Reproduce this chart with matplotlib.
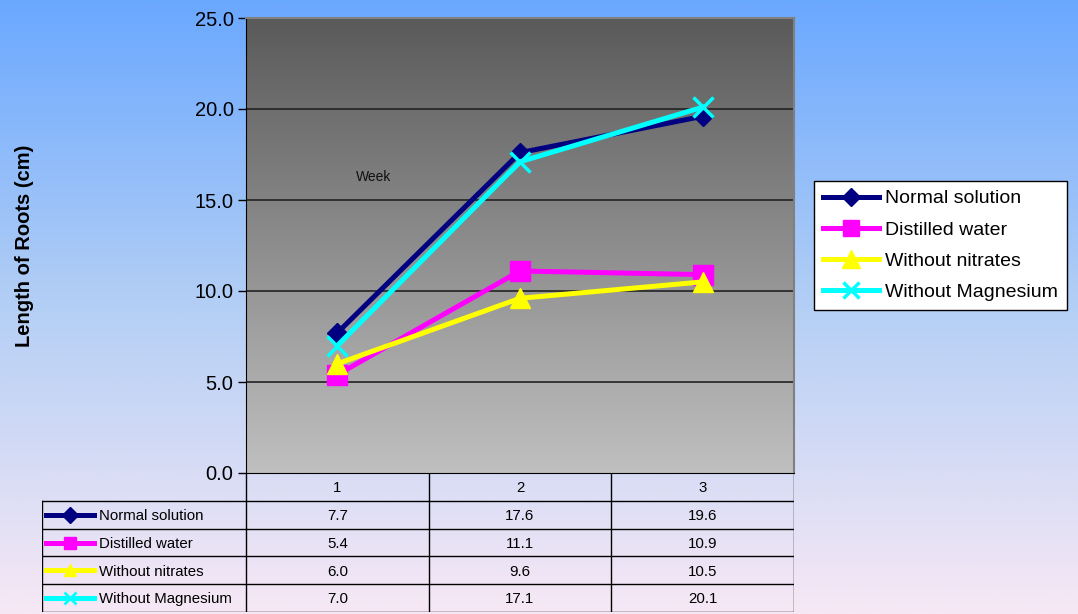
import numpy as np
from matplotlib import pyplot as plt
from matplotlib.colors import LinearSegmentedColormap
from matplotlib.lines import Line2D

weeks = ["1", "2", "3"]
series = ["Normal solution", "Distilled water", "Without nitrates", "Without Magnesium"]
normal = [7.7, 17.6, 19.6]
distilled = [5.4, 11.1, 10.9]
no_nitrates = [6.0, 9.6, 10.5]
no_magnesium = [7.0, 17.1, 20.1]
values = [normal, distilled, no_nitrates, no_magnesium]
yticks = [0, 5, 10, 15, 20, 25]

colors = ["#000080", "#ff00ff", "#ffff00", "#00ffff"]
markers = ["D", "s", "^", "x"]
msizes = [10, 14, 15, 14]

plt.rcParams['font.family'] = ['Liberation Sans', 'DejaVu Sans']

W, H = 1078, 614
fig = plt.figure(figsize=(W / 100, H / 100), dpi=100)

# background gradient
bg = fig.add_axes([0, 0, 1, 1], zorder=-10)
bg_cmap = LinearSegmentedColormap.from_list("bg", ["#6aa8ff", "#b4cff5", "#f7e8f5"])
bg.imshow(np.linspace(0, 1, 256).reshape(-1, 1), aspect="auto", cmap=bg_cmap,
          extent=[0, 1, 0, 1])
bg.axis("off")

# main plot area
left, right, top, bottom = 246, 794, 18, 473
ax = fig.add_axes([left / W, 1 - bottom / H, (right - left) / W, (bottom - top) / H])
x = np.arange(len(weeks))
ax.set_xlim(-0.5, len(weeks) - 0.5)
ax.set_ylim(0, 25)
pa_cmap = LinearSegmentedColormap.from_list("pa", ["#c0c0c0", "#5a5a5a"])
ax.imshow(np.linspace(0, 1, 256).reshape(-1, 1), aspect="auto", cmap=pa_cmap,
          extent=[-0.5, len(weeks) - 0.5, 0, 25], origin="lower", zorder=0)
for yv in yticks[1:-1]:
    ax.axhline(yv, color="#222222", lw=1.2, zorder=1)

for vals, name, c, m, ms in zip(values, series, colors, markers, msizes):
    ax.plot(x, vals, color=c, lw=3.6, marker=m, ms=ms, mew=2.5 if m == "x" else 1,
            mec=c, mfc=c, label=name, zorder=3)

ax.set_yticks(yticks)
ax.set_yticklabels(["%.1f" % v for v in yticks], fontsize=14.5)
ax.tick_params(axis="y", length=6, width=1, direction="out", pad=3)
ax.set_xticks([])
for s in ["top", "right"]:
    ax.spines[s].set_color("#808080")
    ax.spines[s].set_linewidth(1.5)
ax.spines["left"].set_color("black")
ax.spines["bottom"].set_color("black")
ax.set_ylabel("Length of Roots (cm)", fontsize=14.5, fontweight="bold", labelpad=0)
ax.yaxis.set_label_coords(-(left - 34) / (right - left), 0.5)
ax.text(0.2, 0.65, "Week", transform=ax.transAxes, fontsize=10, color="#111111",
        va="center")

# data table
tleft, tbottom = 42, 612
tax = fig.add_axes([tleft / W, 1 - tbottom / H, (right - tleft) / W, (tbottom - bottom) / H])
tw = right - tleft
label_w = left - tleft
col_w = (right - left) / len(weeks)
nrows = len(series) + 1
tax.set_xlim(0, tw)
tax.set_ylim(nrows, 0)
tax.axis("off")
lc = "black"
lw = 1
# horizontal lines
for r in range(1, nrows + 1):
    tax.plot([0, tw], [r, r], color=lc, lw=lw)
# vertical lines
tax.plot([0, 0], [1, nrows], color=lc, lw=lw)
for i in range(len(weeks) + 1):
    xx = label_w + i * col_w
    tax.plot([xx, xx], [0, nrows], color=lc, lw=lw)
for i, wk in enumerate(weeks):
    tax.text(label_w + (i + 0.5) * col_w, 0.55, wk, ha="center", va="center", fontsize=10.8)
for r, (vals, name, c, m) in enumerate(zip(values, series, colors, markers), start=1):
    tax.plot([4, 52], [r + 0.5, r + 0.5], color=c, lw=3.6, zorder=3)
    tax.plot([28], [r + 0.5], marker=m, color=c, ms=8, mew=2 if m == "x" else 1, zorder=4)
    tax.text(57, r + 0.55, name, ha="left", va="center", fontsize=10.8)
    for i, v in enumerate(vals):
        tax.text(label_w + (i + 0.5) * col_w, r + 0.55, "%.1f" % v, ha="center",
                 va="center", fontsize=10.8)

# legend
handles = [Line2D([], [], color=c, lw=3.6, marker=m, ms=s, mew=2.5 if m == "x" else 1)
           for c, m, s in zip(colors, markers, [9, 12, 13, 12])]
leg = fig.legend(handles, series, loc="center left", bbox_to_anchor=(814 / W, 1 - 245.5 / H),
                 fontsize=14, frameon=True, fancybox=False, edgecolor="black",
                 handlelength=2.9, handletextpad=0.3, borderpad=0.45, labelspacing=0.7,
                 borderaxespad=0)
leg.get_frame().set_linewidth(1)
leg.get_frame().set_facecolor("white")
leg.get_frame().set_alpha(1)

fig.savefig("out.png", dpi=100)
